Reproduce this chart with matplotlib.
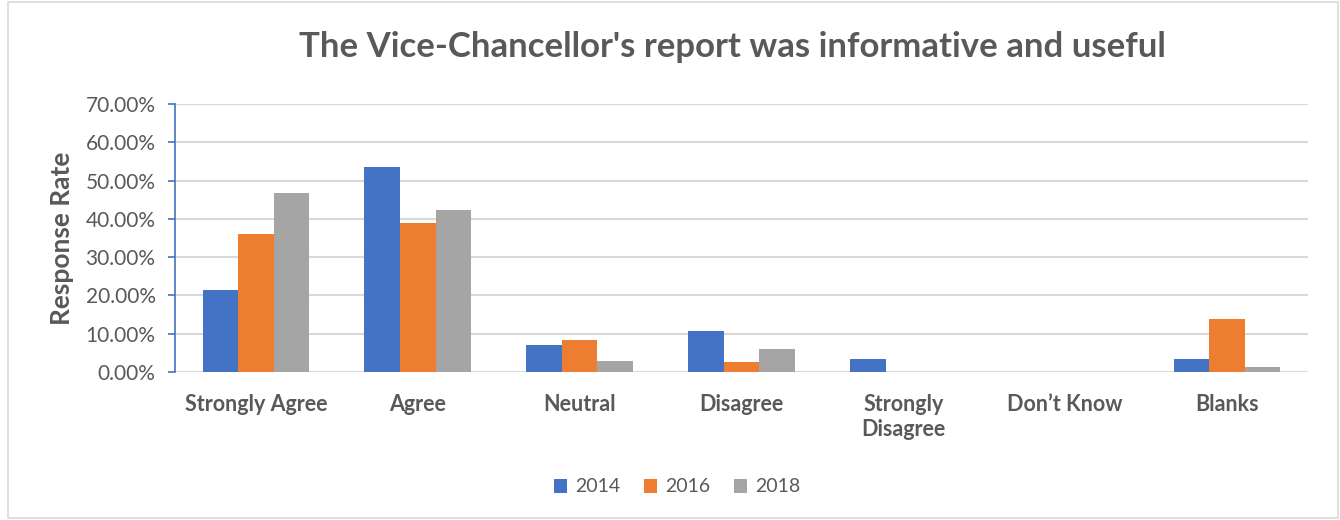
import matplotlib
matplotlib.use("Agg")
import matplotlib.pyplot as plt
import numpy as np
from matplotlib.patches import Rectangle
from matplotlib.ticker import FuncFormatter, MultipleLocator

categories = ["Strongly Agree", "Agree", "Neutral", "Disagree", "Strongly\nDisagree", "Don\u2019t Know", "Blanks"]
years = ["2014", "2016", "2018"]
v2014 = [21.3, 53.5, 7.1, 10.7, 3.5, 0.0, 3.5]
v2016 = [36.0, 38.9, 8.4, 2.7, 0.0, 0.0, 13.8]
v2018 = [46.8, 42.4, 3.0, 6.0, 0.0, 0.0, 1.4]
series = [v2014, v2016, v2018]
colors = ["#4472C4", "#ED7D31", "#A5A5A5"]

plt.rcParams['font.family'] = ['Lato', 'DejaVu Sans']
txt = "#595959"

fig = plt.figure(figsize=(13.4, 5.2), dpi=100)
fig.patches.append(Rectangle((8/1340, 2/520), 1330/1340, 516/520, transform=fig.transFigure,
                             fill=False, edgecolor="#d9d9d9", lw=1.2))
ax = fig.add_axes([175/1340, 1 - 372/520, (1308-175)/1340, (372-104)/520])

x = np.arange(len(categories))
w = 0.22
for i, (vals, c, y) in enumerate(zip(series, colors, years)):
    ax.bar(x + (i - 1) * w, vals, width=w, color=c, label=y, zorder=3)

ax.set_xlim(-0.5, len(categories) - 0.5)
ax.set_ylim(0, 70)
ax.yaxis.set_major_locator(MultipleLocator(10))
ax.yaxis.set_major_formatter(FuncFormatter(lambda v, p: f"{v:.2f}%"))
ax.grid(axis='y', color="#d9d9d9", lw=1.5, zorder=0)
for s in ['top', 'right', 'bottom']:
    ax.spines[s].set_visible(False)
ax.spines['left'].set_color("#4472C4")
ax.spines['left'].set_linewidth(1.2)
ax.tick_params(axis='y', colors="#4472C4", labelcolor=txt, labelsize=15, length=5, width=1.2, direction='out', pad=9)
ax.set_xticks(x)
ax.set_xticklabels(categories, fontsize=15.5, fontweight='bold', color=txt, linespacing=1.25, va='top')
ax.tick_params(axis='x', length=0, pad=16)
ax.set_ylabel("Response Rate", fontsize=19, fontweight='bold', color=txt, labelpad=8)

fig.text(732/1340, 1 - 47/520, "The Vice-Chancellor's report was informative and useful",
         ha='center', va='center', fontsize=25, fontweight='bold', color=txt)

leg = fig.legend(loc='center', bbox_to_anchor=(677/1340, 1 - 487/520), ncol=3, frameon=False,
                 fontsize=14, handlelength=0.7, handleheight=0.7, handletextpad=0.4, columnspacing=1.2)
for t in leg.get_texts():
    t.set_color(txt)

fig.savefig("out.png", dpi=100)
